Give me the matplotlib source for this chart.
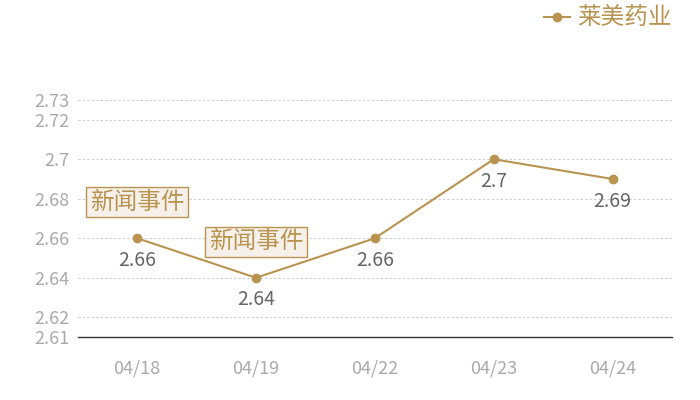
import matplotlib
matplotlib.use('Agg')
import matplotlib.pyplot as plt

# data
dates = ['04/18', '04/19', '04/22', '04/23', '04/24']
prices = [2.66, 2.64, 2.66, 2.70, 2.69]
price_labels = ['2.66', '2.64', '2.66', '2.7', '2.69']
event_idx = [0, 1]
event_text = '新闻事件'
series_name = '莱美药业'
y_ticks = [2.61, 2.62, 2.64, 2.66, 2.68, 2.70, 2.72, 2.73]
y_tick_labels = ['2.61', '2.62', '2.64', '2.66', '2.68', '2.7', '2.72', '2.73']

gold = '#b99350'
plt.rcParams['font.family'] = ['Noto Sans CJK SC', 'DejaVu Sans']

fig = plt.figure(figsize=(7, 4), dpi=100)
ax = fig.add_axes([0.111, 0.1575, 0.849, 0.5925])

x = list(range(len(dates)))
ax.plot(x, prices, color=gold, linewidth=1.5, marker='o', markersize=6,
        label=series_name, zorder=3)

# value labels under each point
for i, (v, t) in enumerate(zip(prices, price_labels)):
    ax.annotate(t, (i, v), xytext=(0, -16), textcoords='offset points',
                ha='center', va='center', fontsize=14, color='#666666')

# news event boxes above points
for i in event_idx:
    ax.annotate(event_text, (i, prices[i]), xytext=(0, 26), textcoords='offset points',
                ha='center', va='center', fontsize=17, color=gold,
                bbox=dict(boxstyle='square,pad=0.15', facecolor='#f5f0e9', edgecolor=gold, linewidth=1))

ax.set_xlim(-0.5, len(dates) - 0.5)
ax.set_ylim(2.61, 2.73)
ax.set_xticks(x)
ax.set_xticklabels(dates)
ax.set_yticks(y_ticks)
ax.set_yticklabels(y_tick_labels)
ax.tick_params(axis='both', length=0, colors='#aaaaaa', labelsize=13)
ax.tick_params(axis='x', pad=16)
ax.tick_params(axis='y', pad=6)

for t in y_ticks[1:]:
    ax.axhline(t, color='#cccccc', linewidth=0.8, linestyle=(0, (2, 2)), zorder=1)

for s in ['top', 'right', 'left']:
    ax.spines[s].set_visible(False)
ax.spines['bottom'].set_color('#333333')
ax.spines['bottom'].set_linewidth(1)

leg = fig.legend(loc='upper right', bbox_to_anchor=(0.99, 1.035), frameon=False,
                 fontsize=17, handlelength=1.1, handletextpad=0.3)
for txt in leg.get_texts():
    txt.set_color(gold)

fig.savefig('out.png', dpi=100)
